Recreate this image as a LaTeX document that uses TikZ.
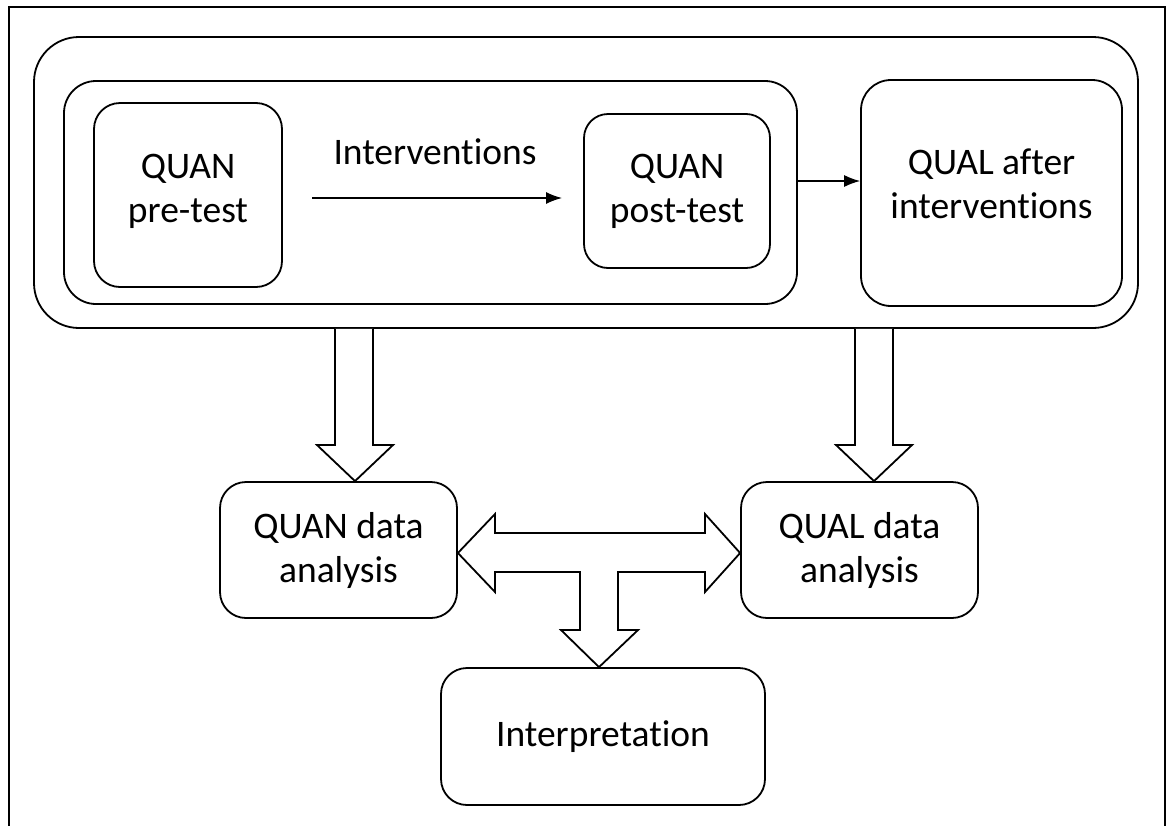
\documentclass[tikz,border=0pt]{standalone}
\usepackage{fontspec}
\setmainfont{Carlito}[Ligatures=NoCommon]
\usetikzlibrary{arrows.meta}
% extra depth under a last line, so the text sits a little higher in its box
\newcommand{\dropline}[1]{\rule[-#1]{0pt}{0pt}}
\begin{document}
\begin{tikzpicture}[x=1pt,y=-1pt,
  every node/.style={font=\fontsize{37.5}{44}\selectfont},
  box/.style={draw, line width=1.8pt, align=center, inner sep=0pt},
  thin arrow/.style={line width=1.3pt, -{Latex[length=16pt,width=12pt]}},
  block/.style={draw, line width=1.8pt, fill=white, line join=miter}]
\useasboundingbox (0,0) rectangle (1166,825);

% page frame, open at the bottom
\draw[line width=2.2pt] (9,830) -- (9,7) -- (1165,7) -- (1165,830);

% data collection stage
\node[box, rounded corners=45pt, minimum width=1104pt, minimum height=291pt] (outer) at (586,182.5) {};
\node[box, rounded corners=32pt, minimum width=733pt, minimum height=223pt] (inner) at (430.5,192.5) {};
\node[box, rounded corners=26pt, minimum width=188pt, minimum height=184pt] (pre) at (188,195) {QUAN\\pre-test\dropline{14pt}};
\node[box, rounded corners=24pt, minimum width=186pt, minimum height=154pt] (post) at (677,191) {QUAN\\post-test\dropline{4pt}};
\node[box, rounded corners=30pt, minimum width=261pt, minimum height=226pt] (qual) at (991.5,193) {QUAL after\\interventions\dropline{18pt}};

\node (intlabel) at (435,152) {Interventions};
\coordinate (intstart) at (312,198);
\coordinate (intend) at (562,198);
\draw[thin arrow] (intstart) -- (intend);
\draw[thin arrow] ([yshift=11.5pt]inner.east) -- (qual.west |- 0,181);

% analysis stage
\node[box, rounded corners=26pt, minimum width=237pt, minimum height=136pt] (quan) at (338.5,550) {QUAN data\\analysis};
\node[box, rounded corners=26pt, minimum width=237pt, minimum height=136pt] (quald) at (859.5,550) {QUAL data\\analysis};
\node[box, rounded corners=26pt, minimum width=324pt, minimum height=137pt] (interp) at (603,736.5) {Interpretation};

% block arrows from the collection stage down to the analyses
\draw[block] (outer.south -| 335,0) -- (335,445) -- (317,445) -- (quan.north -| 355,0) -- (393,445) -- (373,445) -- (outer.south -| 373,0);
\draw[block] (outer.south -| 855,0) -- (855,445) -- (836,445) -- (quald.north -| 874,0) -- (912,445) -- (893,445) -- (outer.south -| 893,0);

% two-headed block arrow between the analyses, with a branch down to the interpretation
\draw[block] (quan.east |- 0,553) -- (495,514) -- (495,533) -- (705,533) -- (705,514)
  -- (quald.west |- 0,553) -- (705,592) -- (705,572) -- (618,572) -- (618,630) -- (638,630)
  -- (interp.north -| 599,0) -- (561,630) -- (580,630) -- (580,572) -- (495,572) -- (495,592) -- cycle;
\end{tikzpicture}
\end{document}
